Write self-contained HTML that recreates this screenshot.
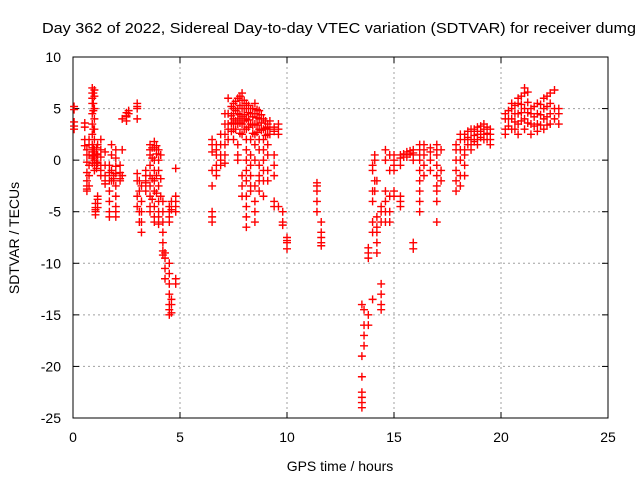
<!DOCTYPE html>
<html><head><meta charset="utf-8">
<style>
body{margin:0;background:#fff;}
svg{display:block;font-family:"Liberation Sans",sans-serif;}
</style></head>
<body>
<svg id="chart" width="640" height="480">
<text x="42" y="33" font-size="15" textLength="594" lengthAdjust="spacingAndGlyphs" fill="#000">Day 362 of 2022, Sidereal Day-to-day VTEC variation (SDTVAR) for receiver dumg</text>
<g id="grid"></g>
<g id="axes"></g>
<g id="marks"></g>
<text x="340" y="471" font-size="14" text-anchor="middle">GPS time / hours</text>
<text transform="translate(19,238) rotate(-90)" font-size="14" text-anchor="middle">SDTVAR / TECUs</text>
</svg>
<script>
const xTicks = [0,5,10,15,20,25];
const yTicks = [10,5,0,-5,-10,-15,-20,-25];
const hours = [0.05,0.55,0.65,0.75,0.9,1.0,1.05,1.15,1.3,1.5,1.7,1.8,1.9,2.0,2.2,2.3,2.5,2.6,3.0,3.1,3.2,3.4,3.6,3.8,4.0,4.2,4.3,4.5,4.6,4.8,
6.5,6.7,6.9,7.1,7.25,7.5,7.7,7.9,8.1,8.3,8.5,8.7,8.9,9.1,9.2,9.4,9.6,9.8,10.0,11.4,11.6,
13.5,13.6,13.8,14.0,14.1,14.2,14.4,14.6,14.8,15.0,15.3,15.6,15.9,16.2,16.4,16.7,17.0,17.2,17.9,18.1,18.3,18.6,18.9,19.2,19.5,
20.2,20.5,20.8,21.1,21.4,21.7,22.0,22.3,22.5,22.7,
7.4,7.6,7.8,8.0,8.2,8.4,8.6,8.8,9.0,0.95,1.1,20.35,20.65,20.95,21.25,21.55,21.85,22.15,18.45,18.75,19.05,19.35,3.7,3.9,4.1,15.45,15.75];
const sdtvar = [
[5.2,4.9,3.7,3.3,3.0],[3.6,3.2,2.0,1.4],[1.0,0.5,-0.2,-1.2,-2,-2.5,-3.0,-2.8],[2.0,1.5,0.5,-0.5,-1.5,-2.5],
[7.0,6.5,6.0,5.5,4.5,3.5,2.5,1.5,0.8,0.2,-0.3],[6.8,6.2,5.0,4.0,3.0,2.0,1.0,0.0,-0.5,-1.0],[-4.2,-4.6,-5.0,-5.3,-4.8],
[-3.8,-4.2,-4.6,-3.5,1.5,0.5,-0.3],[2.0,1.0,0.3,-0.5,-1.0,-1.5],[0.8,-0.5,-1.5,-2.0,-2.3],[-0.5,-1.2,-2.0,-3.0,-4.0,-5.0,-5.5],
[1.5,0.5,-1.0,-2.0],[-1.5,-2.0,-1.8],[1.0,0.2,-0.6,-1.3,-2.5,-3.5,-4.5,-5.0,-5.5],[-0.5,-1.2,-1.8,-2.0],[4.0,1.0,-1.5],
[4.2,4.6,4.3,3.8],[4.5,4.8],[5.5,5.0,5.2,4.0,-1.3,-2.0,-3.5,-4.5],[-2.0,-3.0,-5.0,-6.0],[-2.5,-4.0,-5.0,-6.0,-7.0],
[-1.0,-2.2,-2.5,-3.0,-2.0,-1.5],[1.5,1.0,0.5,-0.5,-1.5,-2.5,-3.5,-4.5,-5.0],[1.8,1.2,0.0,-1.0,-2.0,-3.0,-4.5,-5.5,-6.0],
[1.0,0.0,-1.0,-2.5,-4.0,-5.0,-5.5,-6.2],[-4.0,-5.0,-6.0,-7.0,-8.0,-8.8,-9.2],[-9.0,-9.5,-10.5,-11.5],
[-4.5,-5.5,-6.0,-5.0,-10,-11,-12,-13,-14,-14.5,-15],[-4.0,-4.8,-13.5,-14,-14.8],[-3.5,-4.0,-4.5,-5.0,-0.8,-12,-11.5],
[2.0,1.5,0.8,-1.0,-2.5,-5.0,-5.5,-6.0],[1.5,1.0,0.5,-0.5,-1.0,-1.5],[2.5,1.5,0.5,0.0,-0.5],[4.5,3.5,2.5,1.5,0.5,-0.3],
[6.0,4.5,3.5,2.0,3.0],[5.5,5.0,4.5,4.0,3.5,3.0,2.0],[6.0,5.0,4.5,4.0,3.5,1.5,0.5,0.0],[6.5,5.8,5.0,4.2,3.5,2.5,-1.5,-2.5,-3.5],
[5.5,5.0,4.0,3.0,2.0,1.0,0.0,-1.0,-2.0,-3.5,-4.5,-5.5,-6.5],[5.0,4.5,3.5,2.0,0.5,-0.5,-1.5,-2.5,-3.0],
[5.5,4.5,3.5,2.5,1.5,0.0,-2.5,-4.0,-5.0,-6.0],[4.8,4.0,3.0,2.0,1.0,-0.5,-1.5,-2.0,-3.0],[4.0,3.0,2.0,1.0,0.0,-1.0,-2.0,-3.5],
[3.5,3.2,2.5,1.5,0.5,-1.0,-2.0],[3.8,3.0,2.5],[3.0,3.2,2.8,0.5,-0.5,-1.5,-4.0,-4.5],[3.5,3.0,2.5,-4.5],[-5.0,-6.0,-6.3],
[-7.5,-8.0,-8.6,-7.8],[-2.2,-2.5,-3.0,-4.0,-5.0],[-7.0,-7.5,-8.0,-8.3,-6.0],
[-22.5,-23,-23.5,-24,-21,-19,-14],[-14.5,-16,-17,-18],[-9.0,-9.5,-8.5,-15,-16],[-6.0,-7.0,-4.0,-3.0,-1.0,-0.5,-13.5],
[-3.0,-2.0,0.0,0.5],[-2,-5.5,-6.5,-7,-8,-9],[-4.5,-5.0,-6.0,-12,-13,-14,-14.5],[1.0,0.0,-3.0,-4.0,-5.0,-6.0],
[0.5,-1.0,-3.5,-5.0,-6.0],[0.0,0.5,-0.5,-1.0,-3.0,-3.5],[0.5,0.2,-0.5,-4.0,-4.5,-3.5],[0.8,0.5,0.3],
[1.0,0.7,0.5,0.0,-8.0,-8.6],[1.5,1.0,0.5,0.0,-1.0,-2.0,-3.0,-4.0,-5.0],[1.5,1.0,0.5,-0.5,-1.5],[1.2,0.8,0.0,-1.0],
[1.5,1.0,0.5,-0.5,-1.5,-2.5,-3.0,-4.0,-6.0],[1.0,-1.0,-2.0],[1.5,1.0,0.0,-1.0,-2.0,-3.0],[2.5,2.0,1.0,0.0,-1.5,-2.5],
[2.5,2.0,1.0,0.5,-0.5,-1.5],[3.0,2.8,2.0,1.0,1.5],[3.2,2.8,2.0,1.5,2.5],[3.5,3.0,2.5,2.0],[3.0,2.5,2.0,1.5],
[4.5,4.0,3.0,2.5],[5.5,5.0,4.0,3.0],[6.0,5.5,4.5,3.5,2.5],[7.0,6.5,5.0,4.0,3.0],[5.0,4.5,3.5,2.5],[5.5,4.5,3.5,2.8],
[6.0,5.0,4.0,3.0],[6.5,5.5,4.5,3.5],[6.8,5.0,4.0],[5.0,4.5,3.5],
[5.2,4.3,3.6,2.8],[5.7,4.8,3.8,3.0],[6.2,5.3,4.4,3.6,2.6],[5.8,5.0,4.4,3.8,3.0],[5.3,4.6,3.9,3.2],[5.0,4.2,3.4,2.6],[4.9,4.1,3.4,2.7],[4.4,3.6,2.9],[3.8,3.1,2.4],
[6.5,5.5,4.8,3.0,1.2,0.4],[1.2,0.6,-0.2,-0.8],[4.8,4.0,3.3],[5.3,4.5,3.7,3.0],[6.2,5.4,4.6,3.8],[6.6,5.6,4.6,3.6],[5.2,4.2,3.3],[5.4,4.4,3.4],[6.2,5.2,4.2,3.4],
[2.8,2.2,1.5],[3.0,2.4,1.8],[3.3,2.8,2.2],[3.2,2.6,2.0],[1.2,0.2,-1.8,-3.8],[1.4,0.6,-1.5,-3.2],[0.5,-1.8,-3.5],[0.6,0.3],[0.9,0.6]
];
const NS="http://www.w3.org/2000/svg";
const L=73,R=608,T=57,B=418;
function sx(v){return L+(v-0)/(25-0)*(R-L);}
function sy(v){return T+(10-v)/(10-(-25))*(B-T);}
function mk(tag,attrs,parent){const e=document.createElementNS(NS,tag);for(const k in attrs)e.setAttribute(k,attrs[k]);parent.appendChild(e);return e;}
const grid=document.getElementById('grid'),axes=document.getElementById('axes'),marks=document.getElementById('marks');
xTicks.forEach(t=>{
  const x=sx(t);
  if(t>0&&t<25){const g=mk('line',{x1:x,x2:x,y1:T,y2:B,stroke:'#a0a0a0','stroke-dasharray':'2,3'},grid);
  
  }
  mk('line',{x1:x,x2:x,y1:B,y2:B-6,stroke:'#000'},axes);
  mk('line',{x1:x,x2:x,y1:T,y2:T+6,stroke:'#000'},axes);
  const lb=mk('text',{x:x,y:442,'font-size':14,'text-anchor':'middle'},axes);
  lb.textContent=t;
  
  
});
yTicks.forEach(t=>{
  const y=sy(t);
  if(t<10&&t>-25){const g=mk('line',{x1:L,x2:R,y1:y,y2:y,stroke:'#a0a0a0','stroke-dasharray':'2,3'},grid);
  
  }
  mk('line',{x1:L,x2:L+6,y1:y,y2:y,stroke:'#000'},axes);
  mk('line',{x1:R,x2:R-6,y1:y,y2:y,stroke:'#000'},axes);
  const lb=mk('text',{x:61,y:y+5,'font-size':14,'text-anchor':'end'},axes);
  lb.textContent=t;
  
  
});
const frame=mk('rect',{x:L,y:T,width:R-L,height:B-T,fill:'none',stroke:'#000'},axes);


let d='';
hours.forEach((h,i)=>{
  const x=sx(h);
  sdtvar[i].forEach(v=>{
    const y=sy(v);
    d+=`M${x-4},${y}h8M${x},${y-4}v8`;
  });
});
const p=mk('path',{d:d,stroke:'#ff0000','stroke-width':1.4,fill:'none'},marks);


</script>
</body></html>
